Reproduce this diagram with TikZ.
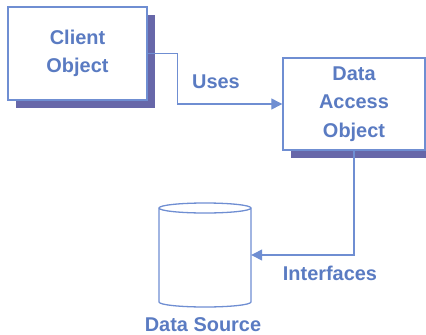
\documentclass[tikz,border=0pt]{standalone}
\usepackage{fontspec}
\setmainfont{Liberation Sans}
\usetikzlibrary{arrows.meta,shadows}
\definecolor{txtblue}{HTML}{5A7BC2}
\definecolor{lineblue}{HTML}{6F8ED2}
\definecolor{shadowblue}{HTML}{6767A9}
\tikzset{
  lbl/.style={text=txtblue,font=\fontsize{20}{28.5}\selectfont\bfseries,align=center},
  objbox/.style={lbl,draw=lineblue,line width=1.4bp,fill=white,inner sep=0pt,
    drop shadow={shadow xshift=8bp,shadow yshift=-8bp,fill=shadowblue,opacity=1}},
  conn/.style={draw=lineblue,line width=1.3bp,-{Triangle[length=11bp,width=11bp]}}
}
\begin{document}
\begin{tikzpicture}[x=1bp,y=-1bp]
  \useasboundingbox (0,0) rectangle (426,335);
  \clip (0,0) rectangle (426,335);
  % boxes
  \node[objbox,minimum width=139bp,minimum height=93bp] (client) at (77.5,53.5) {Client\\Object};
  \node[objbox,minimum width=142bp,minimum height=92bp] (dao) at (354,104) {Data\\Access\\Object};
  % data source: cylinder drawn round an empty node
  \node[minimum width=92bp,minimum height=104bp,inner sep=0pt] (ds) at (205,255) {};
  \draw[lineblue,line width=1.3bp] (159,208) -- (159,302) arc[start angle=180,end angle=360,x radius=46,y radius=-5]
    -- (251,208) (205,208) ellipse[x radius=46,y radius=5];
  \node[lbl] (dslbl) at (203,325) {Data Source};
  % connectors
  \draw[conn] (client.east) -- ++(30,0) |- (dao.west);
  \draw[conn] (dao.south) |- (ds.east);
  \node[lbl] (uses) at (216,82) {Uses};
  \node[lbl] (ifc) at (330,273) {Interfaces};
\end{tikzpicture}
\end{document}
